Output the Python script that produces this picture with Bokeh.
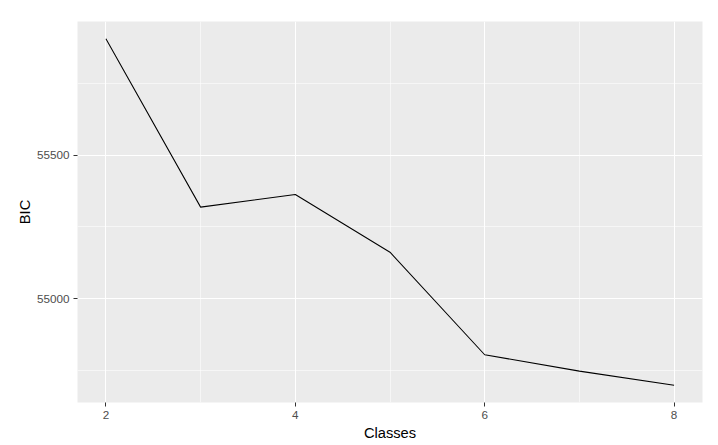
from bokeh.plotting import figure
from bokeh.models import Range1d, FixedTicker
from bokeh.embed import file_html
from bokeh.resources import INLINE

classes = [2, 3, 4, 5, 6, 7, 8]
bic = [55905, 55319, 55363, 55162, 54805, 54748, 54699]

x_major = [2, 4, 6, 8]
x_minor = [3, 5, 7]
y_major = [55000, 55500]
y_minor = [54750, 55250, 55750]

xmin, xmax = min(classes), max(classes)
ymin, ymax = min(bic), max(bic)
xpad = 0.05 * (xmax - xmin)
ypad = 0.05 * (ymax - ymin)

FONT = "Liberation Sans"

p = figure(width=716, height=443, output_backend="svg", toolbar_location=None,
           x_range=Range1d(xmin - xpad, xmax + xpad),
           y_range=Range1d(ymin - ypad, ymax + ypad),
           min_border_left=77, min_border_right=14, min_border_top=21, min_border_bottom=41)

p.background_fill_color = "#EBEBEB"
p.border_fill_color = "white"
p.outline_line_color = None

p.line(classes, bic, line_color="black", line_width=1.05)

p.xaxis.ticker = FixedTicker(ticks=x_major, minor_ticks=x_minor)
p.yaxis.ticker = FixedTicker(ticks=y_major, minor_ticks=y_minor)

for ax in (p.xaxis[0], p.yaxis[0]):
    ax.axis_line_color = None
    ax.major_tick_line_color = "#333333"
    ax.major_tick_line_width = 1
    ax.major_tick_in = 0
    ax.major_tick_out = 4
    ax.minor_tick_line_color = None
    ax.major_label_text_font = FONT
    ax.major_label_text_font_size = "11.7px"
    ax.major_label_text_color = "#4D4D4D"
    ax.axis_label_text_font = FONT
    ax.axis_label_text_font_size = "14.7px"
    ax.axis_label_text_color = "black"
    ax.axis_label_text_font_style = "normal"

p.xaxis.axis_label = "Classes"
p.yaxis.axis_label = "BIC"
p.xaxis.major_label_standoff = 4
p.yaxis.major_label_standoff = 4
p.xaxis.axis_label_standoff = 3
p.yaxis.axis_label_standoff = 1

for g in (p.xgrid[0], p.ygrid[0]):
    g.grid_line_color = "white"
    g.grid_line_width = 1.1
    g.minor_grid_line_color = "white"
    g.minor_grid_line_width = 0.55

open("out.html", "w").write(file_html(p, INLINE))
